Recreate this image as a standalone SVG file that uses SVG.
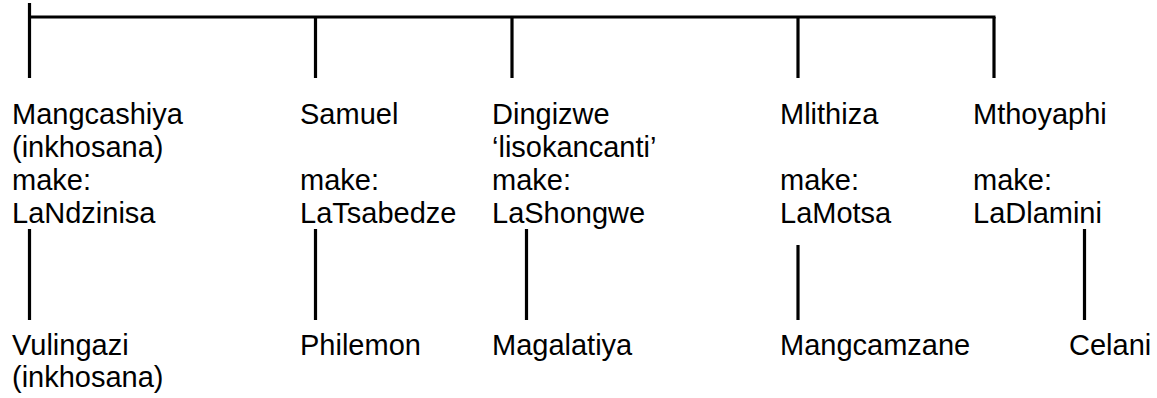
<svg xmlns="http://www.w3.org/2000/svg" width="1157" height="398" viewBox="0 0 1157 398">
<style>
  text { font-family: "Liberation Sans", Arial, sans-serif; font-size: 29px; fill: #000; }
  .ln { stroke: #000; stroke-width: 3.2; fill: none; stroke-linecap: butt; }
</style>
<rect width="1157" height="398" fill="#fff"/>
<g id="connectors">
  <line class="ln" x1="29.5" y1="3" x2="29.5" y2="78"/>
  <line class="ln" x1="28" y1="17" x2="995.5" y2="17"/>
  <line class="ln" x1="315.5" y1="17" x2="315.5" y2="78"/>
  <line class="ln" x1="512" y1="17" x2="512" y2="78"/>
  <line class="ln" x1="798" y1="17" x2="798" y2="78"/>
  <line class="ln" x1="994" y1="17" x2="994" y2="78"/>
  <line class="ln" x1="29.5" y1="229" x2="29.5" y2="320"/>
  <line class="ln" x1="315.5" y1="229" x2="315.5" y2="320"/>
  <line class="ln" x1="526.5" y1="229" x2="526.5" y2="320"/>
  <line class="ln" x1="798" y1="245" x2="798" y2="320"/>
  <line class="ln" x1="1084.5" y1="229" x2="1084.5" y2="320"/>
</g>
<g id="mangcashiya">
  <text x="12" y="123.5">Mangcashiya</text>
  <text x="12" y="156.5">(inkhosana)</text>
  <text x="12" y="189.5">make:</text>
  <text x="12" y="222.7">LaNdzinisa</text>
</g>
<g id="samuel">
  <text x="300" y="123.5">Samuel</text>
  <text x="300" y="189.5">make:</text>
  <text x="300" y="222.7">LaTsabedze</text>
</g>
<g id="dingizwe">
  <text x="492" y="123.5">Dingizwe</text>
  <text x="492" y="156.5">‘lisokancanti’</text>
  <text x="492" y="189.5">make:</text>
  <text x="492" y="222.7">LaShongwe</text>
</g>
<g id="mlithiza">
  <text x="780" y="123.5">Mlithiza</text>
  <text x="780" y="189.5">make:</text>
  <text x="780" y="222.7">LaMotsa</text>
</g>
<g id="mthoyaphi">
  <text x="973" y="123.5">Mthoyaphi</text>
  <text x="973" y="189.5">make:</text>
  <text x="973" y="222.7">LaDlamini</text>
</g>
<g id="vulingazi">
  <text x="12" y="354.5">Vulingazi</text>
  <text x="12" y="386.5">(inkhosana)</text>
</g>
<g id="philemon">
  <text x="300" y="354.5">Philemon</text>
</g>
<g id="magalatiya">
  <text x="492" y="354.5">Magalatiya</text>
</g>
<g id="mangcamzane">
  <text x="780" y="354.5">Mangcamzane</text>
</g>
<g id="celani">
  <text x="1069" y="354.5">Celani</text>
</g>
</svg>
